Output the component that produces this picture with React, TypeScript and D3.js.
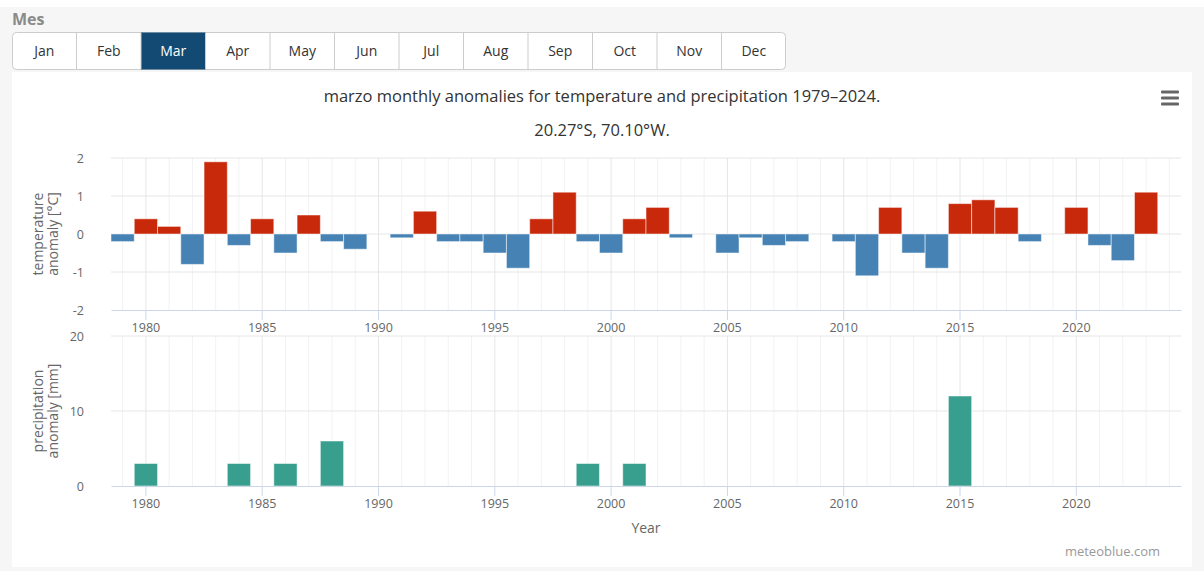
import { useEffect, useRef } from 'react'
import * as d3 from 'd3'

// month selector labels
const months = ['Jan', 'Feb', 'Mar', 'Apr', 'May', 'Jun', 'Jul', 'Aug', 'Sep', 'Oct', 'Nov', 'Dec']
const selectedMonth = 'Mar'

// years on the x axis
const years = [
  1979, 1980, 1981, 1982, 1983, 1984, 1985, 1986, 1987, 1988, 1989, 1990, 1991, 1992, 1993, 1994,
  1995, 1996, 1997, 1998, 1999, 2000, 2001, 2002, 2003, 2004, 2005, 2006, 2007, 2008, 2009, 2010,
  2011, 2012, 2013, 2014, 2015, 2016, 2017, 2018, 2019, 2020, 2021, 2022, 2023, 2024,
]
const majorYears = [1980, 1985, 1990, 1995, 2000, 2005, 2010, 2015, 2020]

// temperature anomaly [°C], one per year (2024 has no value)
const tempAnomaly = [
  -0.2, 0.4, 0.2, -0.8, 1.9, -0.3, 0.4, -0.5, 0.5, -0.2, -0.4, 0, -0.1, 0.6, -0.2, -0.2,
  -0.5, -0.9, 0.4, 1.1, -0.2, -0.5, 0.4, 0.7, -0.1, 0, -0.5, -0.1, -0.3, -0.2, 0, -0.2,
  -1.1, 0.7, -0.5, -0.9, 0.8, 0.9, 0.7, -0.2, 0, 0.7, -0.3, -0.7, 1.1, null,
]

// precipitation anomaly [mm], one per year
const precipAnomaly = [
  0, 3, 0, 0, 0, 3, 0, 3, 0, 6, 0, 0, 0, 0, 0, 0,
  0, 0, 0, 0, 3, 0, 3, 0, 0, 0, 0, 0, 0, 0, 0, 0,
  0, 0, 0, 0, 12, 0, 0, 0, 0, 0, 0, 0, 0, null,
]

const tempTicks = [-2, -1, 0, 1, 2]
const precipTicks = [0, 10, 20]

const title = 'marzo monthly anomalies for temperature and precipitation 1979–2024.'
const subtitle = '20.27°S, 70.10°W.'

const FONT = '"Open Sans", "Noto Sans", sans-serif'
const W = 1204
const H = 571

const App = () => {
  const topXRef = useRef<SVGGElement>(null)
  const topYRef = useRef<SVGGElement>(null)
  const botXRef = useRef<SVGGElement>(null)
  const botYRef = useRef<SVGGElement>(null)

  // scales
  const x = d3.scaleBand<number>().domain(years).range([111, 1181]).padding(0)
  const yT = d3.scaleLinear().domain([-2, 2]).range([310, 158])
  const yP = d3.scaleLinear().domain([0, 20]).range([486, 336])

  useEffect(() => {
    const styleX = (g: any) => {
      g.attr('font-family', FONT).attr('font-size', 12.5)
      g.select('.domain').attr('stroke', '#ccd6eb')
      g.selectAll('.tick line').attr('stroke', '#ccd6eb')
      g.selectAll('.tick text').attr('fill', '#666')
    }
    const styleY = (g: any) => {
      g.attr('font-family', FONT).attr('font-size', 12.5)
      g.select('.domain').remove()
      g.selectAll('.tick line').remove()
      g.selectAll('.tick text').attr('fill', '#666')
    }
    const xAxis = d3.axisBottom(x).tickValues(majorYears).tickSize(10).tickSizeOuter(0).tickPadding(3)
    d3.select(topXRef.current).call(xAxis as any).call(styleX)
    d3.select(botXRef.current).call(xAxis as any).call(styleX)

    d3.select(topYRef.current)
      .call(d3.axisLeft(yT).tickValues(tempTicks).tickFormat((d) => String(d)).tickSize(0).tickPadding(27) as any)
      .call(styleY)
    d3.select(botYRef.current)
      .call(d3.axisLeft(yP).tickValues(precipTicks).tickFormat((d) => String(d)).tickSize(0).tickPadding(27) as any)
      .call(styleY)
  }, [])

  const bw = x.bandwidth()
  const cx = (yr: number) => (x(yr) ?? 0) + bw / 2
  const tabW = (786 - 12) / months.length

  const vGrid = (y0: number, y1: number) =>
    years.map((yr) => (
      <line
        key={yr}
        x1={cx(yr)}
        x2={cx(yr)}
        y1={y0}
        y2={y1}
        stroke={majorYears.includes(yr) ? '#e6e6e6' : '#f2f2f2'}
        strokeWidth={1}
      />
    ))

  return (
    <div style={{ position: 'absolute', left: 0, top: 0 }}>
      <svg width={W} height={H} style={{ display: 'block' }}>
        {/* page background */}
        <rect x={0} y={0} width={W} height={H} fill="#f6f6f6" />
        <rect x={0} y={0} width={W} height={7} fill="#fff" />

        {/* month selector */}
        <text x={12} y={25} fontFamily={FONT} fontSize={16} fontWeight="bold" fill="#8a8a8a">
          Mes
        </text>
        <rect x={12.5} y={32.5} width={773} height={37} rx={4} fill="#fff" stroke="#ccc" />
        {months.map((m, i) => {
          const sel = m === selectedMonth
          return (
            <g key={m}>
              {sel && <rect x={12 + i * tabW} y={32.5} width={tabW} height={37} fill="#134a74" />}
              {i > 0 && (
                <line x1={12 + i * tabW} x2={12 + i * tabW} y1={33} y2={69} stroke="#ccc" />
              )}
              <text
                x={12 + i * tabW + tabW / 2}
                y={56}
                textAnchor="middle"
                fontFamily={FONT}
                fontSize={14}
                fill={sel ? '#fff' : '#333'}
              >
                {m}
              </text>
            </g>
          )
        })}

        {/* chart panel */}
        <rect x={12} y={72} width={1180} height={495} fill="#fff" />

        {/* titles */}
        <text x={602} y={102} textAnchor="middle" fontFamily={FONT} fontSize={16.5} fill="#333">
          {title}
        </text>
        <text x={602} y={136} textAnchor="middle" fontFamily={FONT} fontSize={16.5} fill="#333">
          {subtitle}
        </text>

        {/* export menu icon */}
        {[0, 6, 12].map((o) => (
          <rect key={o} x={1161} y={90.5 + o} width={18} height={3} rx={1} fill="#666" />
        ))}

        {/* temperature panel */}
        {vGrid(yT(2), yT(-2))}
        {tempTicks
          .filter((t) => t !== -2)
          .map((t) => (
            <line key={t} x1={111} x2={1181} y1={yT(t)} y2={yT(t)} stroke="#e6e6e6" />
          ))}
        {years.map((yr, i) => {
          const v = tempAnomaly[i]
          if (v === null || v === 0) return null
          return (
            <rect
              key={yr}
              x={x(yr)}
              width={bw}
              y={yT(Math.max(0, v))}
              height={Math.abs(yT(v) - yT(0))}
              fill={v > 0 ? '#c8290a' : '#4682b4'}
              stroke="#fff"
              strokeOpacity={0.5}
              strokeWidth={1}
            />
          )
        })}
        <g ref={topXRef} transform={`translate(0,${yT(-2)})`} />
        <g ref={topYRef} transform="translate(111,0)" />
        <text
          transform={`translate(0,${(yT(2) + yT(-2)) / 2}) rotate(-90)`}
          textAnchor="middle"
          fontFamily={FONT}
          fontSize={14}
          fill="#666"
        >
          <tspan x={0} y={43}>temperature</tspan>
          <tspan x={0} y={58}>anomaly [°C]</tspan>
        </text>

        {/* precipitation panel */}
        {vGrid(yP(20), yP(0))}
        {precipTicks
          .filter((t) => t !== 0)
          .map((t) => (
            <line key={t} x1={111} x2={1181} y1={yP(t)} y2={yP(t)} stroke="#e6e6e6" />
          ))}
        {years.map((yr, i) => {
          const v = precipAnomaly[i]
          if (v === null || v === 0) return null
          return (
            <rect
              key={yr}
              x={x(yr)}
              width={bw}
              y={yP(v)}
              height={yP(0) - yP(v)}
              fill="#389f8e"
              stroke="#fff"
              strokeOpacity={0.5}
              strokeWidth={1}
            />
          )
        })}
        <g ref={botXRef} transform={`translate(0,${yP(0)})`} />
        <g ref={botYRef} transform="translate(111,0)" />
        <text
          transform={`translate(0,${(yP(20) + yP(0)) / 2}) rotate(-90)`}
          textAnchor="middle"
          fontFamily={FONT}
          fontSize={14}
          fill="#666"
        >
          <tspan x={0} y={43}>precipitation</tspan>
          <tspan x={0} y={58}>anomaly [mm]</tspan>
        </text>
        <text x={646} y={533} textAnchor="middle" fontFamily={FONT} fontSize={14} fill="#666">
          Year
        </text>

        {/* credits */}
        <text x={1160} y={556} textAnchor="end" fontFamily={FONT} fontSize={13} fill="#999">
          meteoblue.com
        </text>
      </svg>
    </div>
  )
}

export default App
